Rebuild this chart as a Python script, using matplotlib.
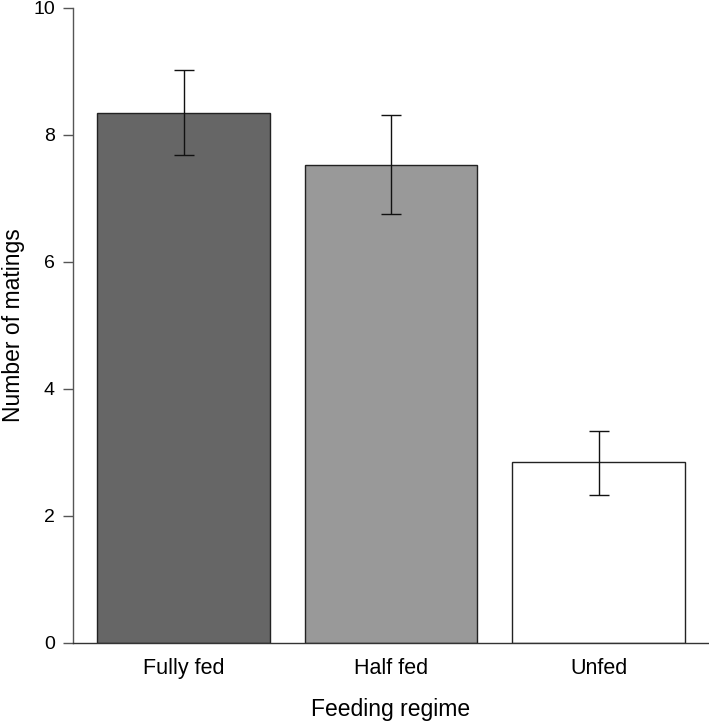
import numpy as np
import matplotlib
matplotlib.use("Agg")
import matplotlib.pyplot as plt

plt.rcParams['font.family'] = ['Liberation Sans', 'DejaVu Sans']

# Datos
regimes = ["Fully fed", "Half fed", "Unfed"]
means = [8.35, 7.53, 2.85]
upper = [9.03, 8.31, 3.34]
lower = [7.69, 6.76, 2.33]
colors = ["#666666", "#999999", "#ffffff"]

means = np.array(means)
yerr = [means - np.array(lower), np.array(upper) - means]

# posiciones como en barplot de R (width=1, space=0.2)
x = 0.7 + 1.2 * np.arange(len(regimes))

fig = plt.figure(figsize=(7.09, 7.23), dpi=100)
ax = fig.add_axes([73/709, 1 - 642.7/723, 635/709, 634.7/723])

ax.bar(x, means, width=1.0, color=colors, edgecolor="#222222", linewidth=1.0, zorder=2)
ax.errorbar(x, means, yerr=yerr, fmt="none", ecolor="#111111", elinewidth=1.0,
            capsize=7.5, capthick=1.0, zorder=3)

ax.set_xlim(0.061, 3.733)
ax.set_ylim(0, 10)
ax.set_yticks([0, 2, 4, 6, 8, 10])
ax.set_xticks(x)
ax.set_xticklabels(regimes, fontsize=15.5)
ax.tick_params(axis="y", labelsize=14, length=7, width=1, color="#555555", pad=6)
ax.tick_params(axis="x", length=0, pad=11)

for s in ["top", "right"]:
    ax.spines[s].set_visible(False)
ax.spines["left"].set_color("#555555")
ax.spines["bottom"].set_color("#333333")
ax.spines["left"].set_linewidth(1)
ax.spines["bottom"].set_linewidth(1)

ax.set_xlabel("Feeding regime", fontsize=16.5, labelpad=14)
ax.set_ylabel("Number of matings", fontsize=16.5, labelpad=6)

fig.savefig("out.png", dpi=100)
